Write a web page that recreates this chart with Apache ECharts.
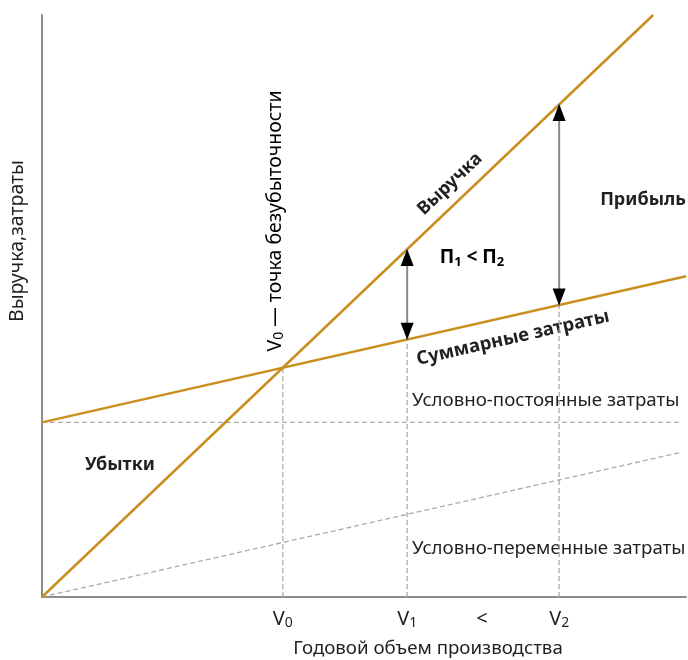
<!DOCTYPE html>
<html><head><meta charset="utf-8">
<script src="https://cdn.jsdelivr.net/npm/echarts@6/dist/echarts.min.js"></script>
<style>html,body{margin:0;padding:0;background:#fff}#c{width:688px;height:660px}</style>
</head><body><div id="c"></div>
<script>
// ---- data ----
const revenue = [[0, 0], [94.9, 100]];
const totalCosts = [[0, 30], [100, 55.1]];
const fixedCosts = [[0, 30], [99, 30]];
const variableCosts = [[0, 0], [99, 24.8]];
const volumes = [37.4, 56.7, 80.3];          // V0, V1, V2
const volumeLabels = ['V0', 'V1', 'V2'];
const lessThanPos = 68.3;                      // position of "<" between V1 and V2
const costAtVolumes = [39.4, 44.2, 50.1];      // total costs at V0, V1, V2
const revenueAtVolumes = [39.4, 59.8, 84.7];   // revenue at V0, V1, V2

const ORANGE = '#c98f1e', AXIS = '#8c8c8c', DASH = '#ababab', TXT = '#231f20';
const FONT = 'Noto Sans';

const guideSeries = volumes.map((v, i) => ({
  type: 'line', data: [[v, 0], [v, costAtVolumes[i]]], symbol: 'none', silent: true, z: 1,
  lineStyle: { color: DASH, width: 1.3, type: [5, 3] }
}));
const profitIdx = [1, 2];
const shaftSeries = profitIdx.map(i => ({
  type: 'line', data: [[volumes[i], costAtVolumes[i]], [volumes[i], revenueAtVolumes[i]]],
  symbol: 'none', silent: true, z: 3, lineStyle: { color: '#8a8a8a', width: 2 }
}));
const headUp = {
  type: 'scatter', z: 4, silent: true, symbol: 'triangle', symbolSize: [13, 17], symbolOffset: [0, 8.5],
  itemStyle: { color: '#000', opacity: 1 }, data: profitIdx.map(i => [volumes[i], revenueAtVolumes[i]])
};
const headDown = {
  type: 'scatter', z: 4, silent: true, symbol: 'triangle', symbolSize: [13, 17], symbolOffset: [0, -8.5],
  symbolRotate: 180, itemStyle: { color: '#000', opacity: 1 }, data: profitIdx.map(i => [volumes[i], costAtVolumes[i]])
};

const chart = echarts.init(document.getElementById('c'), null, { renderer: 'canvas' });
const sub = { v: { fontSize: 20, lineHeight: 22, color: TXT, fontFamily: FONT },
              s: { fontSize: 14, lineHeight: 9, verticalAlign: 'bottom', color: TXT, fontFamily: FONT } };
const subB = { v: { fontSize: 19, lineHeight: 22, color: TXT, fontFamily: FONT, fontWeight: 'bold' },
               s: { fontSize: 13, lineHeight: 9, verticalAlign: 'bottom', color: TXT, fontFamily: FONT, fontWeight: 'bold' } };

chart.setOption({
  animation: false,
  grid: { left: 42, right: 2, top: 15, bottom: 63 },
  xAxis: {
    type: 'value', min: 0, max: 100,
    axisLine: { show: true, lineStyle: { color: AXIS, width: 2 } },
    axisTick: { show: false }, splitLine: { show: false },
    axisLabel: {
      customValues: volumes.concat([lessThanPos]), margin: 11,
      formatter: v => {
        const i = volumes.indexOf(v);
        if (i >= 0) return '{v|' + volumeLabels[i][0] + '}{s|' + volumeLabels[i].slice(1) + '}';
        return '{v|<}';
      },
      rich: sub
    }
  },
  yAxis: {
    type: 'value', min: 0, max: 100,
    axisLine: { show: true, lineStyle: { color: AXIS, width: 2 } },
    axisTick: { show: false }, splitLine: { show: false }, axisLabel: { show: false }
  },
  series: [
    { type: 'line', data: fixedCosts, symbol: 'none', z: 1, lineStyle: { color: DASH, width: 1.3, type: [5, 3] } },
    { type: 'line', data: variableCosts, symbol: 'none', z: 1, lineStyle: { color: DASH, width: 1.3, type: [5, 3] } },
    ...guideSeries,
    { type: 'line', data: totalCosts, symbol: 'none', z: 2, lineStyle: { color: ORANGE, width: 2.5 } },
    { type: 'line', data: revenue, symbol: 'none', z: 2, lineStyle: { color: ORANGE, width: 2.5 } },
    ...shaftSeries, headUp, headDown
  ],
  graphic: [
    { type: 'text', x: 17, y: 241, rotation: Math.PI / 2,
      style: { text: 'Выручка,затраты', font: '19.5px "' + FONT + '"', fill: TXT, align: 'center', verticalAlign: 'middle' } },
    { type: 'text', x: 428, y: 649,
      style: { text: 'Годовой объем производства', font: '18.7px "' + FONT + '"', fill: TXT, align: 'center', verticalAlign: 'middle' } },
    { type: 'text', x: 275, y: 221, rotation: Math.PI / 2,
      style: { text: '{v|V}{s|0}{v| — точка безубыточности}', rich: { v: { fontSize: 19.5, lineHeight: 22, color: TXT, fontFamily: FONT }, s: sub.s }, align: 'center', verticalAlign: 'middle' } },
    { type: 'text', x: 450, y: 184, rotation: Math.atan(582 / 610),
      style: { text: 'Выручка', font: 'bold 18px "' + FONT + '"', fill: TXT, align: 'center', verticalAlign: 'middle' } },
    { type: 'text', x: 513, y: 338, rotation: Math.atan(146 / 644),
      style: { text: 'Суммарные затраты', font: 'bold 18.5px "' + FONT + '"', fill: TXT, align: 'center', verticalAlign: 'middle' } },
    { type: 'text', x: 643, y: 200,
      style: { text: 'Прибыль', font: 'bold 18px "' + FONT + '"', fill: TXT, align: 'center', verticalAlign: 'middle' } },
    { type: 'text', x: 472, y: 258,
      style: { text: '{v|П}{s|1}{v| < П}{s|2}', rich: subB, align: 'center', verticalAlign: 'middle' } },
    { type: 'text', x: 412, y: 401,
      style: { text: 'Условно-постоянные затраты', font: '18.7px "' + FONT + '"', fill: TXT, align: 'left', verticalAlign: 'middle' } },
    { type: 'text', x: 412, y: 549,
      style: { text: 'Условно-переменные затраты', font: '18.7px "' + FONT + '"', fill: TXT, align: 'left', verticalAlign: 'middle' } },
    { type: 'text', x: 120, y: 465,
      style: { text: 'Убытки', font: 'bold 18px "' + FONT + '"', fill: TXT, align: 'center', verticalAlign: 'middle' } }
  ]
});
</script></body></html>
